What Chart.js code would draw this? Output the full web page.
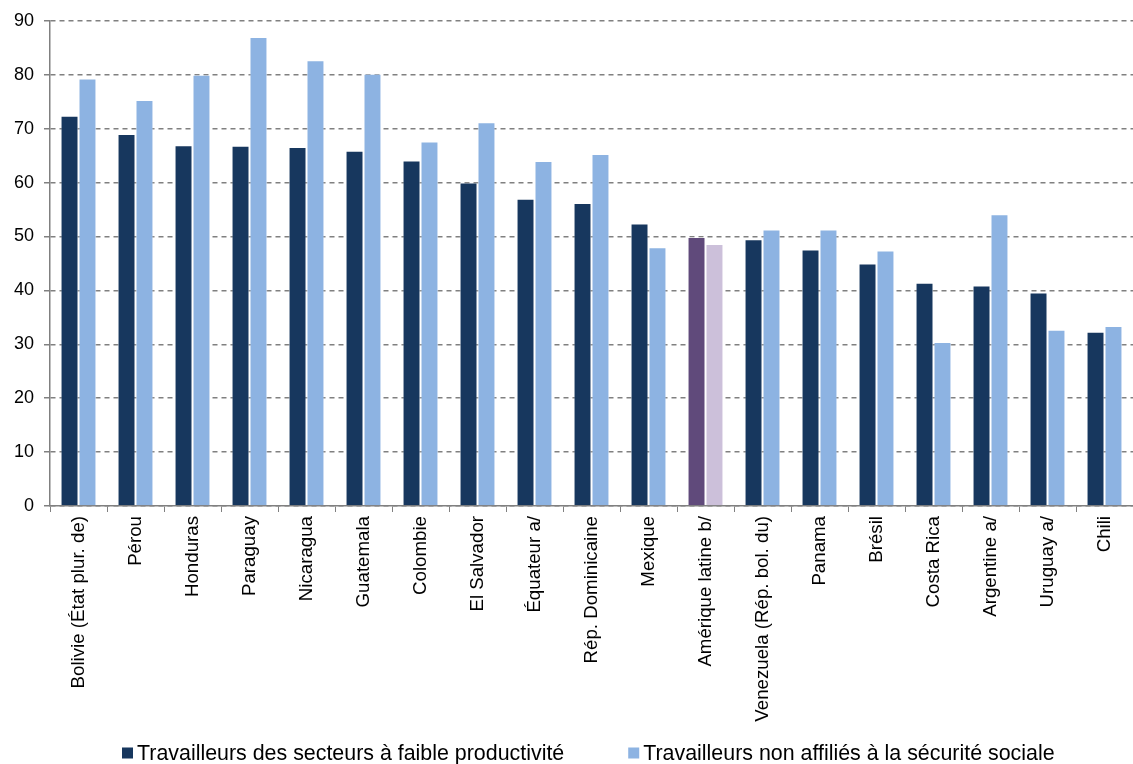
<!DOCTYPE html>
<html>
<head>
<meta charset="utf-8">
<script src="https://cdn.jsdelivr.net/npm/chart.js@4/dist/chart.umd.min.js"></script>
<style>
    html, body { margin: 0; padding: 0; background: #ffffff; }
    #wrap { width: 1133px; height: 764px; position: relative; }
</style>
</head>
<body>
<div id="wrap"><canvas id="chart"></canvas></div>
<script>
// Catégories (pays)
const categories = [
    'Bolivie (État plur. de)', 'Pérou', 'Honduras', 'Paraguay', 'Nicaragua',
    'Guatemala', 'Colombie', 'El Salvador', 'Équateur a/', 'Rép. Dominicaine',
    'Mexique', 'Amérique latine b/', 'Venezuela (Rép. bol. du)', 'Panama', 'Brésil',
    'Costa Rica', 'Argentine a/', 'Uruguay a/', 'Chili'
];

// Séries (en %)
const faibleProductivite = [
    72.4, 69.0, 66.9, 66.8, 66.6, 65.9, 64.1, 60.0, 57.0, 56.2,
    52.4, 49.9, 49.5, 47.6, 45.0, 41.4, 40.9, 39.6, 32.3
];
const nonAffilies = [
    79.3, 75.3, 80.0, 87.0, 82.7, 80.2, 67.6, 71.2, 64.0, 65.3,
    48.0, 48.6, 51.3, 51.3, 47.4, 30.4, 54.1, 32.7, 33.4
];

const seriesNames = [
    'Travailleurs des secteurs à faible productivité',
    'Travailleurs non affiliés à la sécurité sociale'
];

const yTicks = [0, 10, 20, 30, 40, 50, 60, 70, 80, 90];

// Couleurs
const darkBlue = '#17375e';
const lightBlue = '#8db3e2';
const darkPurple = '#604a7b';
const lightPurple = '#ccc0da';
const highlight = 'Amérique latine b/';
const fontFamily = '"Liberation Sans", Arial, sans-serif';

function colorsFor(base, special) {
    return categories.map(c => c === highlight ? special : base);
}

// Légende dessinée à la main (espacement comme dans l'original)
const bottomLegend = {
    id: 'bottomLegend',
    afterDraw(chart) {
        const c = chart.ctx;
        const colors = [darkBlue, lightBlue];
        const box = 11;
        const yMid = 753;
        let x = 122;
        c.save();
        c.font = '21.4px ' + fontFamily;
        c.textBaseline = 'middle';
        c.textAlign = 'left';
        seriesNames.forEach((name, i) => {
            c.fillStyle = colors[i];
            c.fillRect(x, yMid - box / 2, box, box);
            c.fillStyle = '#000000';
            c.fillText(name, x + box + 4, yMid + 1);
            x += box + 4 + c.measureText(name).width + 64;
        });
        c.restore();
    }
};

const ctx = document.getElementById('chart').getContext('2d');
Chart.defaults.font.family = fontFamily;
Chart.defaults.color = '#000000';

new Chart(ctx, {
    type: 'bar',
    data: {
        labels: categories,
        datasets: [
            {
                label: seriesNames[0],
                data: faibleProductivite,
                backgroundColor: colorsFor(darkBlue, darkPurple),
                borderColor: 'rgba(255,255,255,0.4)',
                borderWidth: 1,
                categoryPercentage: 0.63,
                barPercentage: 1.0
            },
            {
                label: seriesNames[1],
                data: nonAffilies,
                backgroundColor: colorsFor(lightBlue, lightPurple),
                borderColor: 'rgba(255,255,255,0.4)',
                borderWidth: 1,
                categoryPercentage: 0.63,
                barPercentage: 1.0
            }
        ]
    },
    options: {
        responsive: true,
        maintainAspectRatio: false,
        animation: false,
        layout: {
            padding: { top: 19, right: -10, left: 0, bottom: 42 }
        },
        plugins: {
            legend: { display: false },
            tooltip: { enabled: false }
        },
        scales: {
            x: {
                offset: true,
                afterFit: function(axis) { axis.height = 216; },
                grid: {
                    display: true,
                    offset: true,
                    drawOnChartArea: false,
                    drawTicks: true,
                    tickLength: 6,
                    color: '#808080'
                },
                border: { display: true, color: '#808080', width: 1.5 },
                ticks: {
                    autoSkip: false,
                    maxRotation: 90,
                    minRotation: 90,
                    padding: 4,
                    font: { size: 18.7 },
                    color: '#000000'
                }
            },
            y: {
                min: 0,
                max: 90,
                afterBuildTicks: function(axis) {
                    axis.ticks = yTicks.map(v => ({ value: v }));
                },
                afterFit: function(axis) { axis.width = 50; },
                grid: {
                    color: '#808080',
                    lineWidth: 1.5,
                    drawTicks: true,
                    tickLength: 6,
                    tickColor: '#808080',
                    tickBorderDash: [],
                    tickBorderDashOffset: 0
                },
                border: { display: true, color: '#808080', width: 1.5, dash: [5, 4] },
                ticks: {
                    padding: 10,
                    font: { size: 18 },
                    color: '#000000'
                }
            }
        }
    },
    plugins: [bottomLegend]
});
</script>
</body>
</html>
